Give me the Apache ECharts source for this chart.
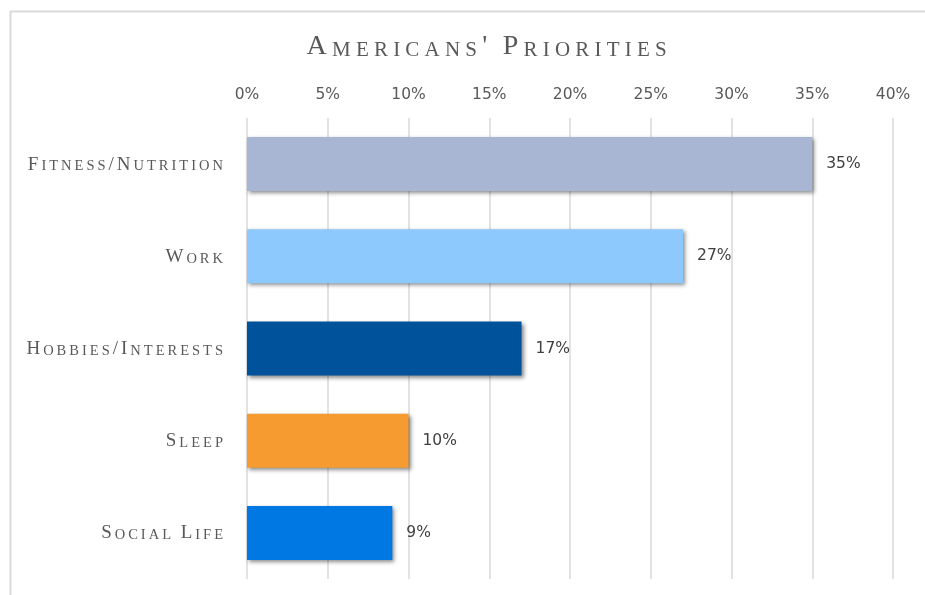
<!DOCTYPE html>
<html>
<head>
<meta charset="utf-8">
<script src="https://cdn.jsdelivr.net/npm/echarts@6/dist/echarts.min.js"></script>
<style>
  html, body { margin: 0; padding: 0; background: #fff; }
  #main { width: 925px; height: 595px; }
</style>
</head>
<body>
<div id="main"></div>
<script>
// data
const categories = ['Fitness/Nutrition', 'Work', 'Hobbies/Interests', 'Sleep', 'Social Life'];
const values = [35, 27, 17, 10, 9];
const barColors = ['#A9B6D3', '#8EC9FD', '#00529B', '#F59B30', '#0078E4'];
const titleText = "Americans' Priorities";

// fake small caps: capitals stay big, the rest goes upper case in a smaller size.
// one rich token per letter so the padding works as letter spacing
function smallCaps(str, big, small) {
  let out = '';
  for (const ch of str) {
    const isBig = (ch !== ch.toLowerCase()) || ch === '/' || ch === "'";
    out += '{' + (isBig ? big : small) + '|' + ch.toUpperCase() + '}';
  }
  return out;
}

const serif = 'Liberation Serif';
const sans = 'DejaVu Sans';
const grey = '#595959';

const myEchart = echarts.init(document.getElementById('main'));

const option = {
  backgroundColor: '#fff',
  animation: false,
  graphic: [{
    type: 'rect',
    left: 8, top: 9,
    shape: { width: 1000, height: 1000 },
    style: { fill: 'none', stroke: '#d9d9d9', lineWidth: 2 }
  }],
  title: {
    text: smallCaps(titleText, 'tb', 'ts'),
    left: 299,
    top: 26,
    textStyle: {
      rich: {
        tb: { fontFamily: serif, fontSize: 28, fontWeight: 'normal', color: grey,
              padding: [0, 2.6, 0, 2.6], verticalAlign: 'bottom', lineHeight: 30 },
        ts: { fontFamily: serif, fontSize: 21, fontWeight: 'normal', color: grey,
              padding: [0, 2.6, 0, 2.6], verticalAlign: 'bottom', lineHeight: 30 }
      }
    }
  },
  grid: {
    left: 247,
    right: 32,
    top: 118,
    bottom: 16
  },
  xAxis: {
    type: 'value',
    position: 'top',
    min: 0,
    max: 40,
    interval: 5,
    axisLine: { show: false },
    axisTick: { show: false },
    splitLine: { lineStyle: { color: '#d9d9d9', width: 1.5 } },
    axisLabel: {
      formatter: '{value}%',
      color: grey,
      fontFamily: sans,
      fontSize: 15.5,
      margin: 15
    }
  },
  yAxis: {
    type: 'category',
    inverse: true,
    data: categories,
    axisLine: { show: false },
    axisTick: { show: false },
    axisLabel: {
      margin: 24,
      formatter: (v) => smallCaps(v, 'b', 's'),
      rich: {
        b: { fontFamily: serif, fontSize: 19, color: grey,
             padding: [0, 0, 0, 3], verticalAlign: 'bottom', lineHeight: 20 },
        s: { fontFamily: serif, fontSize: 14.5, color: grey,
             padding: [0, 0, 0, 3], verticalAlign: 'bottom', lineHeight: 20 }
      }
    }
  },
  series: [{
    type: 'bar',
    barWidth: 54,
    data: values.map((v, i) => ({
      value: v,
      itemStyle: { color: barColors[i] }
    })),
    itemStyle: {
      shadowColor: 'rgba(0,0,0,0.45)',
      shadowBlur: 4,
      shadowOffsetX: 2,
      shadowOffsetY: 2
    },
    label: {
      show: true,
      position: 'right',
      distance: 14,
      formatter: '{c}%',
      color: '#404040',
      fontFamily: sans,
      fontSize: 15.5
    }
  }]
};

myEchart.setOption(option);
</script>
</body>
</html>
